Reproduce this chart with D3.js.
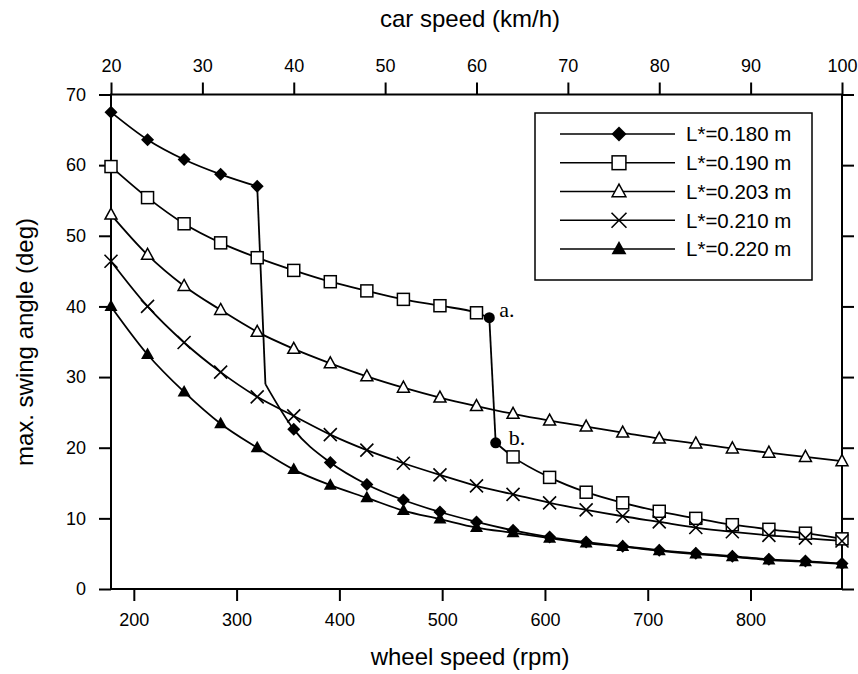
<!DOCTYPE html>
<html><head><meta charset="utf-8">
<script src="https://cdn.jsdelivr.net/npm/d3@7"></script>
<style>html,body{margin:0;padding:0;background:#fff;} svg{display:block;}</style>
</head><body><svg id="chart" width="858" height="674"></svg>
<script>
// ---- data ----
const carSpeed = [20,24,28,32,36,40,44,48,52,56,60,64,68,72,76,80,84,88,92,96,100]; // km/h
const L180 = [67.5,63.6,60.8,58.7,57.0,22.6,17.9,14.8,12.6,10.9,9.5,8.3,7.35,6.65,6.05,5.5,5.05,4.65,4.2,3.95,3.6];
const L190 = [59.8,55.4,51.7,49.0,46.9,45.1,43.5,42.2,41.0,40.1,39.1,18.7,15.8,13.7,12.2,11.0,10.0,9.1,8.45,7.9,7.1];
const L203 = [53.0,47.3,42.9,39.5,36.4,34.0,31.95,30.1,28.5,27.1,25.9,24.8,23.85,23.0,22.15,21.3,20.6,19.9,19.3,18.7,18.1];
const L210 = [46.4,40.0,34.9,30.7,27.2,24.5,21.85,19.65,17.8,16.15,14.6,13.4,12.2,11.2,10.3,9.5,8.7,8.1,7.6,7.2,6.8];
const L220 = [40.0,33.2,27.9,23.4,20.0,16.9,14.7,12.9,11.1,9.9,8.7,7.95,7.2,6.5,6.0,5.4,4.95,4.55,4.1,3.85,3.55];
const L180Knee = [36.9, 29.0];   // [km/h, deg] bottom of the jump of L*=0.180
const jumpA = [61.4, 38.4];      // point a.
const jumpB = [62.1, 20.7];      // point b.
const seriesNames = ["L*=0.180 m","L*=0.190 m","L*=0.203 m","L*=0.210 m","L*=0.220 m"];
const seriesMarkers = ["diamond","square","triangle","cross","triangleFilled"];
const carTicks = [20,30,40,50,60,70,80,90,100];
const wheelTicks = [200,300,400,500,600,700,800];
const angleTicks = [0,10,20,30,40,50,60,70];
const rpmPerKmh = 8.89;

// ---- layout ----
const svg = d3.select("#chart");
const L = 111, R = 842, T = 94.5, B = 589;
const x = d3.scaleLinear().domain([20,100]).range([L,R]);
const xr = d3.scaleLinear().domain([20*rpmPerKmh,100*rpmPerKmh]).range([L,R]);
const y = d3.scaleLinear().domain([0,70]).range([B,T]);

const font = "Liberation Sans, Arial, Helvetica, sans-serif";

// axes
function styleAxis(g, labels){
  g.select(".domain").remove();
  g.selectAll(".tick line").attr("stroke","#000").attr("stroke-width",2);
  g.selectAll(".tick text").attr("font-family",font).attr("font-size",18).attr("fill","#000");
  if(!labels) g.selectAll(".tick text").remove();
}
svg.append("g").attr("transform",`translate(0,${B})`)
  .call(d3.axisBottom(xr).tickValues(wheelTicks).tickSize(12).tickPadding(12).tickFormat(d3.format("d")))
  .call(g=>styleAxis(g,true));
svg.append("g").attr("transform",`translate(0,${T})`)
  .call(d3.axisTop(x).tickValues(carTicks).tickSize(12).tickPadding(11).tickFormat(d3.format("d")))
  .call(g=>styleAxis(g,true));
svg.append("g").attr("transform",`translate(${L},0)`)
  .call(d3.axisLeft(y).tickValues(angleTicks).tickSize(12).tickPadding(13).tickFormat(d3.format("d")))
  .call(g=>styleAxis(g,true));
svg.append("g").attr("transform",`translate(${R},0)`)
  .call(d3.axisRight(y).tickValues(angleTicks).tickSize(12))
  .call(g=>styleAxis(g,false));
svg.append("rect").attr("x",L).attr("y",T).attr("width",R-L).attr("height",B-T)
  .attr("fill","none").attr("stroke","#000").attr("stroke-width",2);

// titles
svg.append("text").attr("x",470).attr("y",27).attr("text-anchor","middle")
  .attr("font-family",font).attr("font-size",24).text("car speed (km/h)");
svg.append("text").attr("x",470).attr("y",665).attr("text-anchor","middle")
  .attr("font-family",font).attr("font-size",24).text("wheel speed (rpm)");
svg.append("text").attr("transform","translate(33,342) rotate(-90)").attr("text-anchor","middle")
  .attr("font-family",font).attr("font-size",24).text("max. swing angle (deg)");

// lines
const curve = d3.line().x(d=>x(d[0])).y(d=>y(d[1])).curve(d3.curveMonotoneX);
const straight = d3.line().x(d=>x(d[0])).y(d=>y(d[1]));
const pts = arr => carSpeed.map((s,i)=>[s,arr[i]]);
const p180 = pts(L180), p190 = pts(L190);
const lineG = svg.append("g").attr("fill","none").attr("stroke","#000").attr("stroke-width",1.8);
function addPath(gen, data){ lineG.append("path").attr("d",gen(data)); }
addPath(curve, p180.slice(0,5));
addPath(straight, [p180[4], L180Knee]);
addPath(curve, [L180Knee].concat(p180.slice(5)));
addPath(curve, p190.slice(0,11).concat([jumpA]));
addPath(straight, [jumpA, jumpB]);
addPath(curve, [jumpB].concat(p190.slice(11)));
addPath(curve, pts(L203));
addPath(curve, pts(L210));
addPath(curve, pts(L220));

// markers
function marker(g, type, cx, cy, s){
  s = s||1;
  if(type==="diamond"){
    g.append("path").attr("d",`M${cx},${cy-6.5*s}L${cx+6.5*s},${cy}L${cx},${cy+6.5*s}L${cx-6.5*s},${cy}Z`).attr("fill","#000");
  } else if(type==="square"){
    g.append("rect").attr("x",cx-6*s).attr("y",cy-6*s).attr("width",12*s).attr("height",12*s)
      .attr("fill","#fff").attr("stroke","#000").attr("stroke-width",1.5);
  } else if(type==="triangle"){
    g.append("path").attr("d",`M${cx},${cy-6.5*s}L${cx+6*s},${cy+4.5*s}L${cx-6*s},${cy+4.5*s}Z`)
      .attr("fill","#fff").attr("stroke","#000").attr("stroke-width",1.5);
  } else if(type==="triangleFilled"){
    g.append("path").attr("d",`M${cx},${cy-7*s}L${cx+6.5*s},${cy+4.5*s}L${cx-6.5*s},${cy+4.5*s}Z`).attr("fill","#000");
  } else if(type==="cross"){
    g.append("path").attr("d",`M${cx-6.5*s},${cy-6.5*s}L${cx+6.5*s},${cy+6.5*s}M${cx+6.5*s},${cy-6.5*s}L${cx-6.5*s},${cy+6.5*s}`)
      .attr("stroke","#000").attr("stroke-width",1.6).attr("fill","none");
  }
}
const mg = svg.append("g");
[L180,L190,L203,L210,L220].forEach((arr,k)=>{
  carSpeed.forEach((s,i)=> marker(mg, seriesMarkers[k], x(s), y(arr[i])));
});

// a./b. points
[jumpA, jumpB].forEach(p=> mg.append("circle").attr("cx",x(p[0])).attr("cy",y(p[1])).attr("r",5.5).attr("fill","#000"));
svg.append("text").attr("x",x(jumpA[0])+10).attr("y",y(jumpA[1])-1).attr("font-family","Liberation Serif, Times New Roman, serif").attr("font-size",22).text("a.");
svg.append("text").attr("x",x(jumpB[0])+13).attr("y",y(jumpB[1])+2).attr("font-family","Liberation Serif, Times New Roman, serif").attr("font-size",22).text("b.");

// legend
const lg = svg.append("g");
lg.append("rect").attr("x",535).attr("y",113).attr("width",277).attr("height",167)
  .attr("fill","#fff").attr("stroke","#000").attr("stroke-width",1.5);
seriesNames.forEach((n,i)=>{
  const cy = 134 + i*28.75;
  lg.append("line").attr("x1",560).attr("x2",675).attr("y1",cy).attr("y2",cy).attr("stroke","#000").attr("stroke-width",1.6);
  marker(lg, seriesMarkers[i], 619, cy, 1.15);
  lg.append("text").attr("x",686).attr("y",cy).attr("dy","0.36em").attr("font-family",font).attr("font-size",20.5).text(n);
});
</script></body></html>
